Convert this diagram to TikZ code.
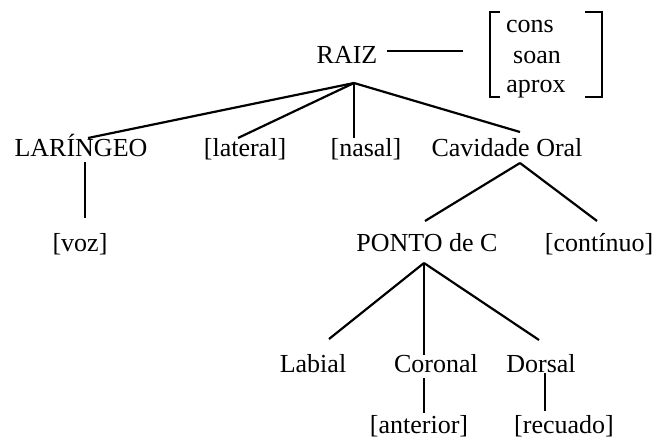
\documentclass[tikz,border=0pt]{standalone}
\usepackage{fontspec}
\setmainfont{Liberation Serif}
\begin{document}
\begin{tikzpicture}[x=1pt,y=-1pt,
  lbl/.style={anchor=base,inner sep=0pt,font=\fontsize{26}{30}\selectfont},
  ln/.style={line width=2.2pt},
  brk/.style={line width=2.2pt,line join=miter}]
\useasboundingbox (0,0) rectangle (655,439);
% nodes
\node[lbl] (raiz) at (347,63) {RAIZ};
\node[lbl] (cons) at (530,32) {cons};
\node[lbl] (soan) at (537,63) {soan};
\node[lbl] (aprox) at (536,92) {aprox};
\node[lbl] (lar) at (81,156) {LARÍNGEO};
\node[lbl] (lateral) at (245,156) {[lateral]};
\node[lbl] (nasal) at (366,156) {[nasal]};
\node[lbl] (cav) at (507,156) {Cavidade Oral};
\node[lbl] (voz) at (80,251) {[voz]};
\node[lbl] (ponto) at (427,251) {PONTO de C};
\node[lbl] (cont) at (599,251) {[contínuo]};
\node[lbl] (labial) at (313,372) {Labial};
\node[lbl] (coronal) at (436,372) {Coronal};
\node[lbl] (dorsal) at (541,372) {Dorsal};
\node[lbl] (anterior) at (419,433) {[anterior]};
\node[lbl] (recuado) at (564,433) {[recuado]};
% connector end points
\coordinate (raizR) at (387,51);
\coordinate (featL) at (463,51);
\coordinate (apexA) at (354,83);
\coordinate (larT) at (88,138);
\coordinate (latT) at (238,138);
\coordinate (nasT) at (354,138);
\coordinate (cavT) at (520,132);
\coordinate (larB) at (85,162);
\coordinate (vozT) at (85,218);
\coordinate (apexB) at (520,163);
\coordinate (pontoT) at (425,221);
\coordinate (contT) at (597,221);
\coordinate (apexC) at (424,263);
\coordinate (labT) at (329,339);
\coordinate (corT) at (424,355);
\coordinate (dorT) at (539,340);
\coordinate (corB) at (424,378);
\coordinate (antT) at (424,413);
\coordinate (dorB) at (545,373);
\coordinate (recT) at (545,411);
% connectors
\draw[ln] (raizR) -- (featL);
\draw[ln] (apexA) -- (larT);
\draw[ln] (apexA) -- (latT);
\draw[ln] (apexA) -- (nasT);
\draw[ln] (apexA) -- (cavT);
\draw[ln] (larB) -- (vozT);
\draw[ln] (apexB) -- (pontoT);
\draw[ln] (apexB) -- (contT);
\draw[ln] (apexC) -- (labT);
\draw[ln] (apexC) -- (corT);
\draw[ln] (apexC) -- (dorT);
\draw[ln] (corB) -- (antT);
\draw[ln] (dorB) -- (recT);
% brackets
\draw[brk] (500,12) -- (490,12) -- (490,97) -- (500,97);
\draw[brk] (585,12) -- (602,12) -- (602,97) -- (585,97);
\end{tikzpicture}
\end{document}
